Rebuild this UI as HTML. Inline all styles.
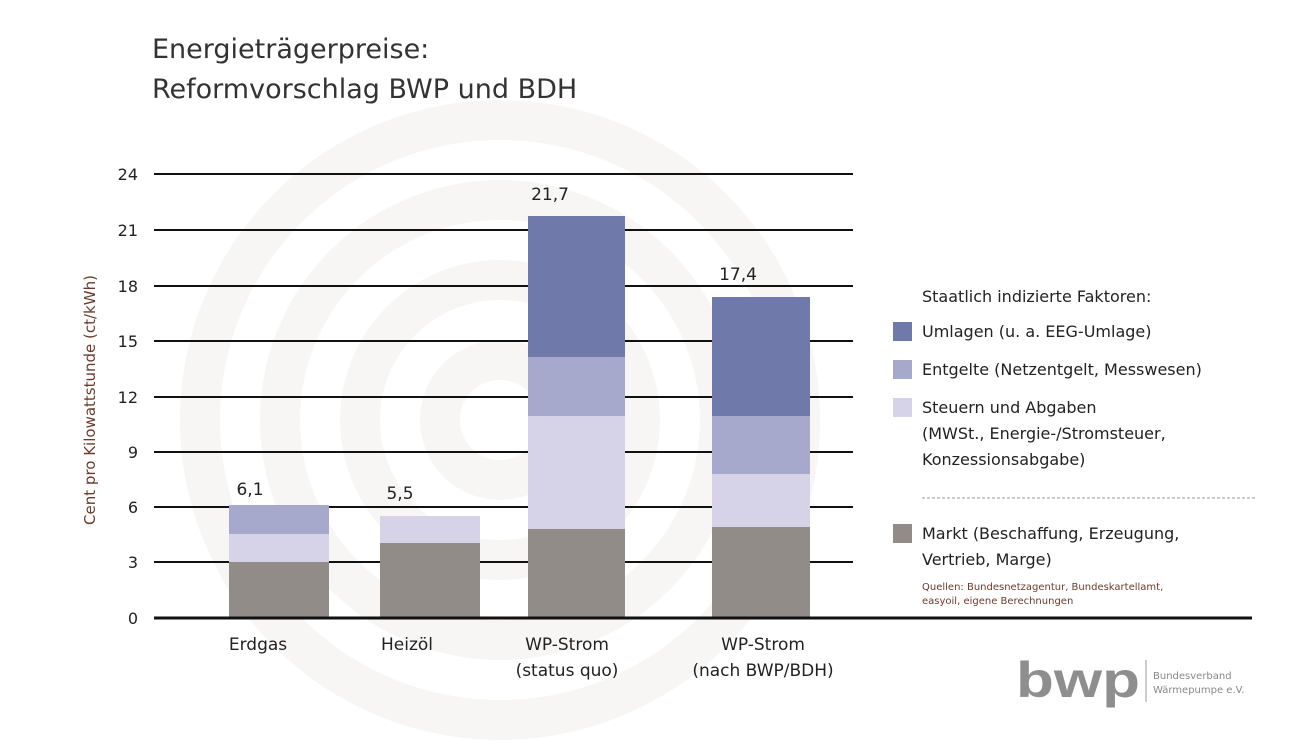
<!DOCTYPE html>
<html><head><meta charset="utf-8"><style>
body{margin:0;width:1314px;height:740px;background:#fff;overflow:hidden;font-family:"DejaVu Sans","Liberation Sans",sans-serif;}
</style></head><body>
<svg width="1314" height="740" xmlns="http://www.w3.org/2000/svg" font-family="DejaVu Sans, Liberation Sans, sans-serif">
<g fill="none" stroke="#f7f6f5" stroke-width="40">
<circle cx="500" cy="420" r="60"/>
<circle cx="500" cy="420" r="140"/>
<circle cx="500" cy="420" r="220"/>
<circle cx="500" cy="420" r="300"/>
</g>
<text x="152" y="58" font-size="27" fill="#333">Energieträgerpreise:</text>
<text x="152" y="98" font-size="27" fill="#333">Reformvorschlag BWP und BDH</text>
<g stroke="#111" stroke-width="2">
<line x1="154" y1="174" x2="853" y2="174"/>
<line x1="154" y1="230" x2="853" y2="230"/>
<line x1="154" y1="286" x2="853" y2="286"/>
<line x1="154" y1="341" x2="853" y2="341"/>
<line x1="154" y1="397" x2="853" y2="397"/>
<line x1="154" y1="452" x2="853" y2="452"/>
<line x1="154" y1="507" x2="853" y2="507"/>
<line x1="154" y1="562" x2="853" y2="562"/>
</g>
<g font-size="16" fill="#222" text-anchor="end">
<text x="138" y="180">24</text><text x="138" y="236">21</text><text x="138" y="292">18</text>
<text x="138" y="347">15</text><text x="138" y="403">12</text><text x="138" y="458">9</text>
<text x="138" y="513">6</text><text x="138" y="568">3</text><text x="138" y="624">0</text>
</g>
<text transform="translate(95,400) rotate(-90)" font-size="15" fill="#6b3a2a" text-anchor="middle">Cent pro Kilowattstunde (ct/kWh)</text>
<rect x="229" y="562" width="100" height="56" fill="#918c88"/>
<rect x="229" y="534" width="100" height="28" fill="#d6d3e8"/>
<rect x="229" y="505" width="100" height="29" fill="#a6a8cc"/>
<rect x="380" y="543" width="100" height="75" fill="#918c88"/>
<rect x="380" y="516" width="100" height="27" fill="#d6d3e8"/>
<rect x="528" y="529" width="97" height="89" fill="#918c88"/>
<rect x="528" y="416" width="97" height="113" fill="#d6d3e8"/>
<rect x="528" y="357" width="97" height="59" fill="#a6a8cc"/>
<rect x="528" y="216" width="97" height="141" fill="#6f7aab"/>
<rect x="712" y="527" width="98" height="91" fill="#918c88"/>
<rect x="712" y="474" width="98" height="53" fill="#d6d3e8"/>
<rect x="712" y="416" width="98" height="58" fill="#a6a8cc"/>
<rect x="712" y="297" width="98" height="119" fill="#6f7aab"/>
<line x1="154" y1="618" x2="1252" y2="618" stroke="#111" stroke-width="3"/>
<g font-size="17" fill="#222" text-anchor="middle">
<text x="250" y="495">6,1</text><text x="400" y="499">5,5</text>
<text x="550" y="200">21,7</text><text x="738" y="280">17,4</text>
<text x="258" y="650">Erdgas</text><text x="407" y="650">Heizöl</text>
<text x="567" y="650">WP-Strom</text><text x="567" y="676">(status quo)</text>
<text x="763" y="650">WP-Strom</text><text x="763" y="676">(nach BWP/BDH)</text>
</g>
<g font-size="16" fill="#222">
<text x="922" y="302">Staatlich indizierte Faktoren:</text>
<rect x="893" y="322" width="19" height="19" fill="#6f7aab"/><text x="922" y="337">Umlagen (u. a. EEG-Umlage)</text>
<rect x="893" y="360" width="19" height="19" fill="#a6a8cc"/><text x="922" y="375">Entgelte (Netzentgelt, Messwesen)</text>
<rect x="893" y="398" width="19" height="19" fill="#d6d3e8"/><text x="922" y="413">Steuern und Abgaben</text>
<text x="922" y="439">(MWSt., Energie-/Stromsteuer,</text>
<text x="922" y="465">Konzessionsabgabe)</text>
<rect x="893" y="524" width="19" height="19" fill="#918c88"/><text x="922" y="539">Markt (Beschaffung, Erzeugung,</text>
<text x="922" y="565">Vertrieb, Marge)</text>
</g>
<line x1="922" y1="498" x2="1255" y2="498" stroke="#999" stroke-width="1" stroke-dasharray="3,2"/>
<g font-size="10" fill="#6b3a2a"><text x="922" y="590">Quellen: Bundesnetzagentur, Bundeskartellamt,</text><text x="922" y="604">easyoil, eigene Berechnungen</text></g>
<text x="1016" y="697" font-size="50" font-weight="bold" fill="#8e8e8e" font-family="Liberation Sans, sans-serif" textLength="124" lengthAdjust="spacingAndGlyphs">bwp</text>
<line x1="1146" y1="660" x2="1146" y2="702" stroke="#999" stroke-width="1"/>
<g font-size="10" fill="#888"><text x="1153" y="679">Bundesverband</text><text x="1153" y="693">Wärmepumpe e.V.</text></g>
</svg>
</body></html>
